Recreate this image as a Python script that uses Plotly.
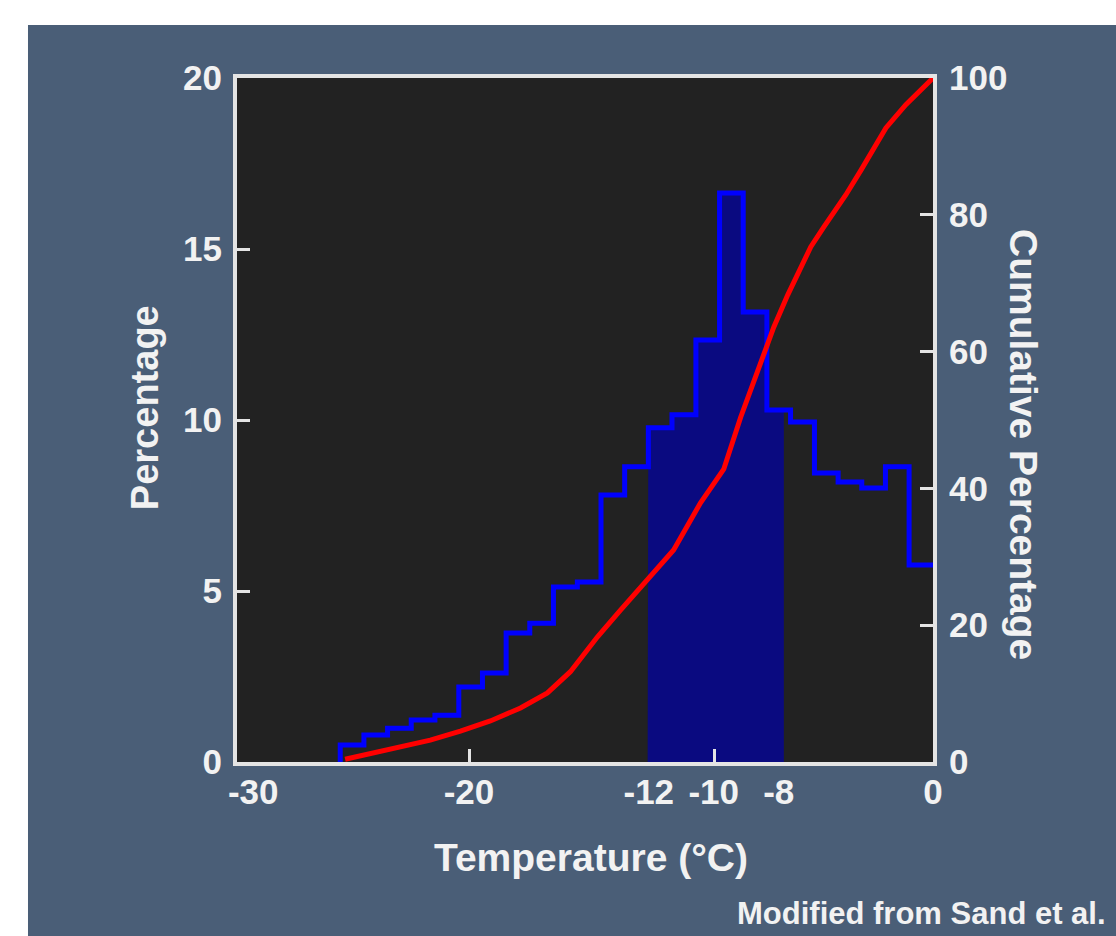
import plotly.graph_objects as go

# ---------------- data ----------------
# histogram bin edges (°C, as drawn on the linear axis) and bar heights (%)
bin_edges = [-25.55, -24.53, -23.51, -22.49, -21.47, -20.44, -19.42, -18.40, -17.38,
             -16.36, -15.33, -14.31, -13.29, -12.27, -11.25, -10.22, -9.20, -8.18,
             -7.16, -6.14, -5.11, -4.09, -3.07, -2.05, -1.03, 0.0]
percentage = [0.50, 0.79, 0.99, 1.23, 1.37, 2.19, 2.60, 3.77, 4.06, 5.12, 5.26, 7.81,
              8.63, 9.77, 10.15, 12.34, 16.64, 13.16, 10.29, 9.94, 8.45, 8.19, 8.01,
              8.63, 5.76]

# cumulative percentage curve
cum_x = [-25.34, -24.26, -22.96, -21.67, -20.37, -19.08, -17.78, -16.62, -15.63,
         -14.46, -13.47, -12.30, -11.18, -10.02, -9.02, -8.29, -7.30, -6.86, -6.26,
         -5.27, -4.71, -3.76, -3.11, -2.03, -1.17, 0.0]
cum_pct = [0.4, 1.2, 2.2, 3.2, 4.5, 6.0, 7.9, 10.1, 13.2, 18.3, 22.2, 26.6, 31.0,
           37.9, 42.8, 50.4, 59.9, 63.6, 68.3, 75.3, 78.2, 82.9, 86.5, 92.7, 96.1, 100.0]

# highlighted range (as drawn) and x tick labels (positions as drawn)
shade_range = [-12.30, -6.43]
x_tick_pos = [-29.3, -20, -12.25, -9.45, -6.65, 0]
x_tick_text = ["-30", "-20", "-12", "-10", "-8", "0"]
x_tick_marks = [-20, -9.40]

# ---------------- derived geometry ----------------
step_x = [bin_edges[0]] + bin_edges
step_y = [0] + percentage + [percentage[-1]]

lo, hi = shade_range
fx, fy = [lo, lo], [0]
def h_at(x):
    for i in range(len(percentage)):
        if bin_edges[i] <= x < bin_edges[i + 1]:
            return percentage[i]
    return percentage[-1]
fy.append(h_at(lo))
for i in range(1, len(bin_edges) - 1):
    e = bin_edges[i]
    if lo < e < hi:
        fx += [e, e]
        fy += [percentage[i - 1], percentage[i]]
fx += [hi, hi]
fy += [h_at(hi - 1e-9), 0]

BG = "#4a5e77"
TXT = "#f2f2f2"
FONT = "Liberation Sans, Arial, sans-serif"

fig = go.Figure()
fig.add_trace(go.Scatter(x=fx, y=fy, mode="lines", fill="toself",
                         fillcolor="#0a0a80", line=dict(width=0),
                         hoverinfo="skip", showlegend=False))
fig.add_trace(go.Scatter(x=step_x, y=step_y, mode="lines", line_shape="hv",
                         line=dict(color="#0000ff", width=5), showlegend=False))
fig.add_trace(go.Scatter(x=cum_x, y=cum_pct, mode="lines", xaxis="x2", yaxis="y2",
                         line=dict(color="#ff0000", width=5), showlegend=False))

tickfont = dict(family=FONT, size=35, color=TXT, weight="bold")
frame = "#e4e4e4"

fig.update_layout(
    width=1116, height=936,
    margin=dict(l=237, r=183, t=78, b=174, pad=0),
    paper_bgcolor=BG, plot_bgcolor="#222222",
    showlegend=False,
    xaxis=dict(range=[-30, 0], tickmode="array", tickvals=x_tick_pos,
               ticktext=x_tick_text, ticks="", showgrid=False, zeroline=False,
               showline=True, linecolor=frame, linewidth=4, mirror=True,
               tickfont=tickfont, ticklabelstandoff=-4),
    xaxis2=dict(range=[-30, 0], overlaying="x", anchor="y", side="bottom",
                tickmode="array", tickvals=x_tick_marks, ticks="inside",
                ticklen=13, tickwidth=3, tickcolor=frame,
                showticklabels=False, showgrid=False, zeroline=False, showline=False),
    yaxis=dict(range=[0, 20], tickmode="array", tickvals=[0, 5, 10, 15, 20],
               ticks="inside", ticklen=13, tickwidth=3, tickcolor=frame,
               showgrid=False, zeroline=False, showline=True, linecolor=frame,
               linewidth=4, mirror=True, tickfont=tickfont, ticklabelstandoff=4),
    yaxis2=dict(range=[0, 100], overlaying="y", side="right", anchor="x2",
                tickmode="array", tickvals=[0, 20, 40, 60, 80, 100],
                ticks="inside", ticklen=13, tickwidth=3, tickcolor=frame,
                showgrid=False, zeroline=False, showline=False,
                tickfont=tickfont, ticklabelstandoff=15),
    shapes=[
        dict(type="rect", xref="paper", yref="paper", x0=-0.4, x1=1.4,
             y0=1.0775, y1=1.3, fillcolor="white", line=dict(width=0), layer="below"),
        dict(type="rect", xref="paper", yref="paper", x0=-0.4, x1=-0.3003,
             y0=-0.4, y1=1.3, fillcolor="white", line=dict(width=0), layer="below"),
    ],
    annotations=[
        dict(text="Percentage", x=-0.132, y=0.5175, xref="paper", yref="paper",
             textangle=-90, showarrow=False, xanchor="center", yanchor="middle",
             font=dict(family=FONT, size=38, color=TXT, weight="bold")),
        dict(text="Cumulative Percentage", x=1.1293, y=0.4635, xref="paper",
             yref="paper", textangle=90, showarrow=False, xanchor="center",
             yanchor="middle",
             font=dict(family=FONT, size=39, color=TXT, weight="bold")),
        dict(text="Temperature (°C)", x=0.5086, y=-0.1389, xref="paper", yref="paper",
             showarrow=False, xanchor="center", yanchor="middle",
             font=dict(family=FONT, size=39, color=TXT, weight="bold")),
        dict(text="Modified from Sand et al.", x=1.2514, y=-0.2208, xref="paper",
             yref="paper", showarrow=False, xanchor="right", yanchor="middle",
             font=dict(family=FONT, size=31, color=TXT, weight="bold")),
    ],
)

fig.write_html("out.html", config={"displayModeBar": False},
               post_script="document.body.style.margin='0px';"
                           "document.body.style.overflow='hidden';")
